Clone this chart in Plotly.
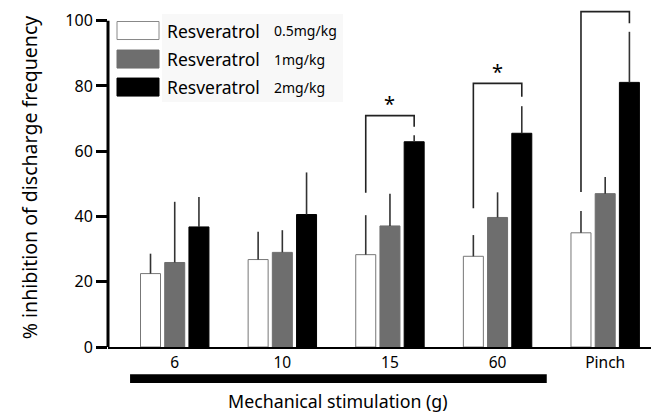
import plotly.graph_objects as go

categories = ["6", "10", "15", "60", "Pinch"]
series_names = ["Resveratrol 0.5mg/kg", "Resveratrol 1mg/kg", "Resveratrol 2mg/kg"]
dose_labels = ["0.5mg/kg", "1mg/kg", "2mg/kg"]
low_vals = [22.5, 26.8, 28.3, 27.8, 35.0]
low_err = [6.1, 8.5, 12.1, 6.5, 6.7]
mid_vals = [25.9, 29.0, 37.1, 39.7, 47.0]
mid_err = [18.6, 6.8, 9.9, 7.7, 5.1]
high_vals = [36.8, 40.6, 62.9, 65.5, 81.1]
high_err = [9.2, 12.9, 2.0, 8.3, 15.5]
y_ticks = [0, 20, 40, 60, 80, 100]

# significance brackets: category index, left foot, top, right foot, star
br_cat = [2, 3, 4]
br_left = [47.3, 42.5, 47.5]
br_top = [70.9, 80.8, 102.8]
br_right = [67.5, 76.7, 99.2]
br_star = ["*", "*", ""]
star_y = [74.5, 84.5, 0]

fills = ["#ffffff", "#6e6e6e", "#000000"]
lines = ["#777777", "#6e6e6e", "#000000"]
FONT = "Noto Sans"

# page is offset by the default 8px body margin
OFF = 8
W, H = 659 - OFF, 414 - OFF
L, R = 108 - OFF, 0
T = 0
B = H - (346.7 - OFF)
pw, ph = W - L - R, H - T - B
YTOP = (346.7 - OFF) / 3.26

def px(xp):
    return (xp - OFF - L) / pw

def py(yp):
    return (H - B - (yp - OFF)) / ph

x = list(range(len(categories)))
fig = go.Figure()
for name, vals, err, fc, lc in zip(series_names, [low_vals, mid_vals, high_vals],
                                   [low_err, mid_err, high_err], fills, lines):
    fig.add_trace(go.Bar(
        x=x, y=vals, name=name,
        marker=dict(color=fc, line=dict(color=lc, width=1)),
        error_y=dict(type="data", symmetric=False, array=err,
                     arrayminus=[0] * len(err), color="#333333",
                     thickness=1.6, width=0),
        showlegend=False,
    ))

shapes = []
pitch = 0.225
for c, yl, yt, yr in zip(br_cat, br_left, br_top, br_right):
    xl, xr = c - pitch, c + pitch
    shapes.append(dict(type="path", xref="x", yref="y",
                       path=f"M {xl} {yl} L {xl} {yt} L {xr} {yt} L {xr} {yr}",
                       line=dict(color="#222222", width=1.6)))
# left axis line (0..100)
shapes.append(dict(type="line", xref="paper", yref="y", x0=0, x1=0, y0=0, y1=100,
                   line=dict(color="black", width=3)))
# bar under mechanical stimulation categories
shapes.append(dict(type="rect", xref="x", yref="paper", x0=-0.415, x1=3.457,
                   y0=py(382.7), y1=py(374), fillcolor="black", line=dict(width=0)))
# legend background
shapes.append(dict(type="rect", xref="paper", yref="paper", x0=px(162), x1=px(343),
                   y0=py(102), y1=py(14), fillcolor="#f8f8f8", line=dict(width=0),
                   layer="below"))

annotations = []
for c, s, sy in zip(br_cat, br_star, star_y):
    if s:
        annotations.append(dict(x=c, y=sy, xref="x", yref="y", text=s, showarrow=False,
                                font=dict(family=FONT, size=20, color="black")))

# manual legend
row_centers = [30.5, 59, 87]
for name, dose, fc, lc, yc in zip(series_names, dose_labels, fills, lines, row_centers):
    shapes.append(dict(type="rect", xref="paper", yref="paper", x0=px(117), x1=px(159),
                       y0=py(yc + 9), y1=py(yc - 9), fillcolor=fc,
                       line=dict(color=lc if fc != "#ffffff" else "#888888", width=1)))
    base = name.replace(" " + dose, "")
    annotations.append(dict(xref="paper", yref="paper", x=px(165), y=py(yc),
                            xanchor="left", yanchor="middle", showarrow=False, text=base,
                            font=dict(family=FONT, size=17.5, color="black")))
    annotations.append(dict(xref="paper", yref="paper", x=px(272), y=py(yc),
                            xanchor="left", yanchor="middle", showarrow=False, text=dose,
                            font=dict(family=FONT, size=14, color="black")))

annotations.append(dict(xref="x", yref="paper", x=1.52, y=py(401), text="Mechanical stimulation (g)",
                        showarrow=False, xanchor="center", yanchor="middle",
                        font=dict(family=FONT, size=17.8, color="black")))

fig.update_layout(
    width=W, height=H,
    margin=dict(l=L, r=R, t=T, b=B),
    barmode="group", bargap=0.325, bargroupgap=0.174,
    plot_bgcolor="white", paper_bgcolor="white",
    font=dict(family=FONT, color="black"),
    shapes=shapes, annotations=annotations,
    xaxis=dict(range=[-0.62, 4.5], tickvals=x, ticktext=categories, showgrid=False,
               zeroline=False, showline=True, linecolor="black", linewidth=2,
               ticks="", tickfont=dict(size=15.5, family=FONT, color="black")),
    yaxis=dict(range=[0, YTOP], tickvals=y_ticks, showgrid=False, zeroline=False,
               showline=False, ticks="outside", ticklen=11, tickwidth=2.5,
               tickcolor="black", tickfont=dict(size=16, family=FONT, color="black"),
               title=dict(text="% inhibition of discharge frequency", standoff=22,
                          font=dict(size=19.5, family=FONT, color="black"))),
)

fig.write_html("out.html")
